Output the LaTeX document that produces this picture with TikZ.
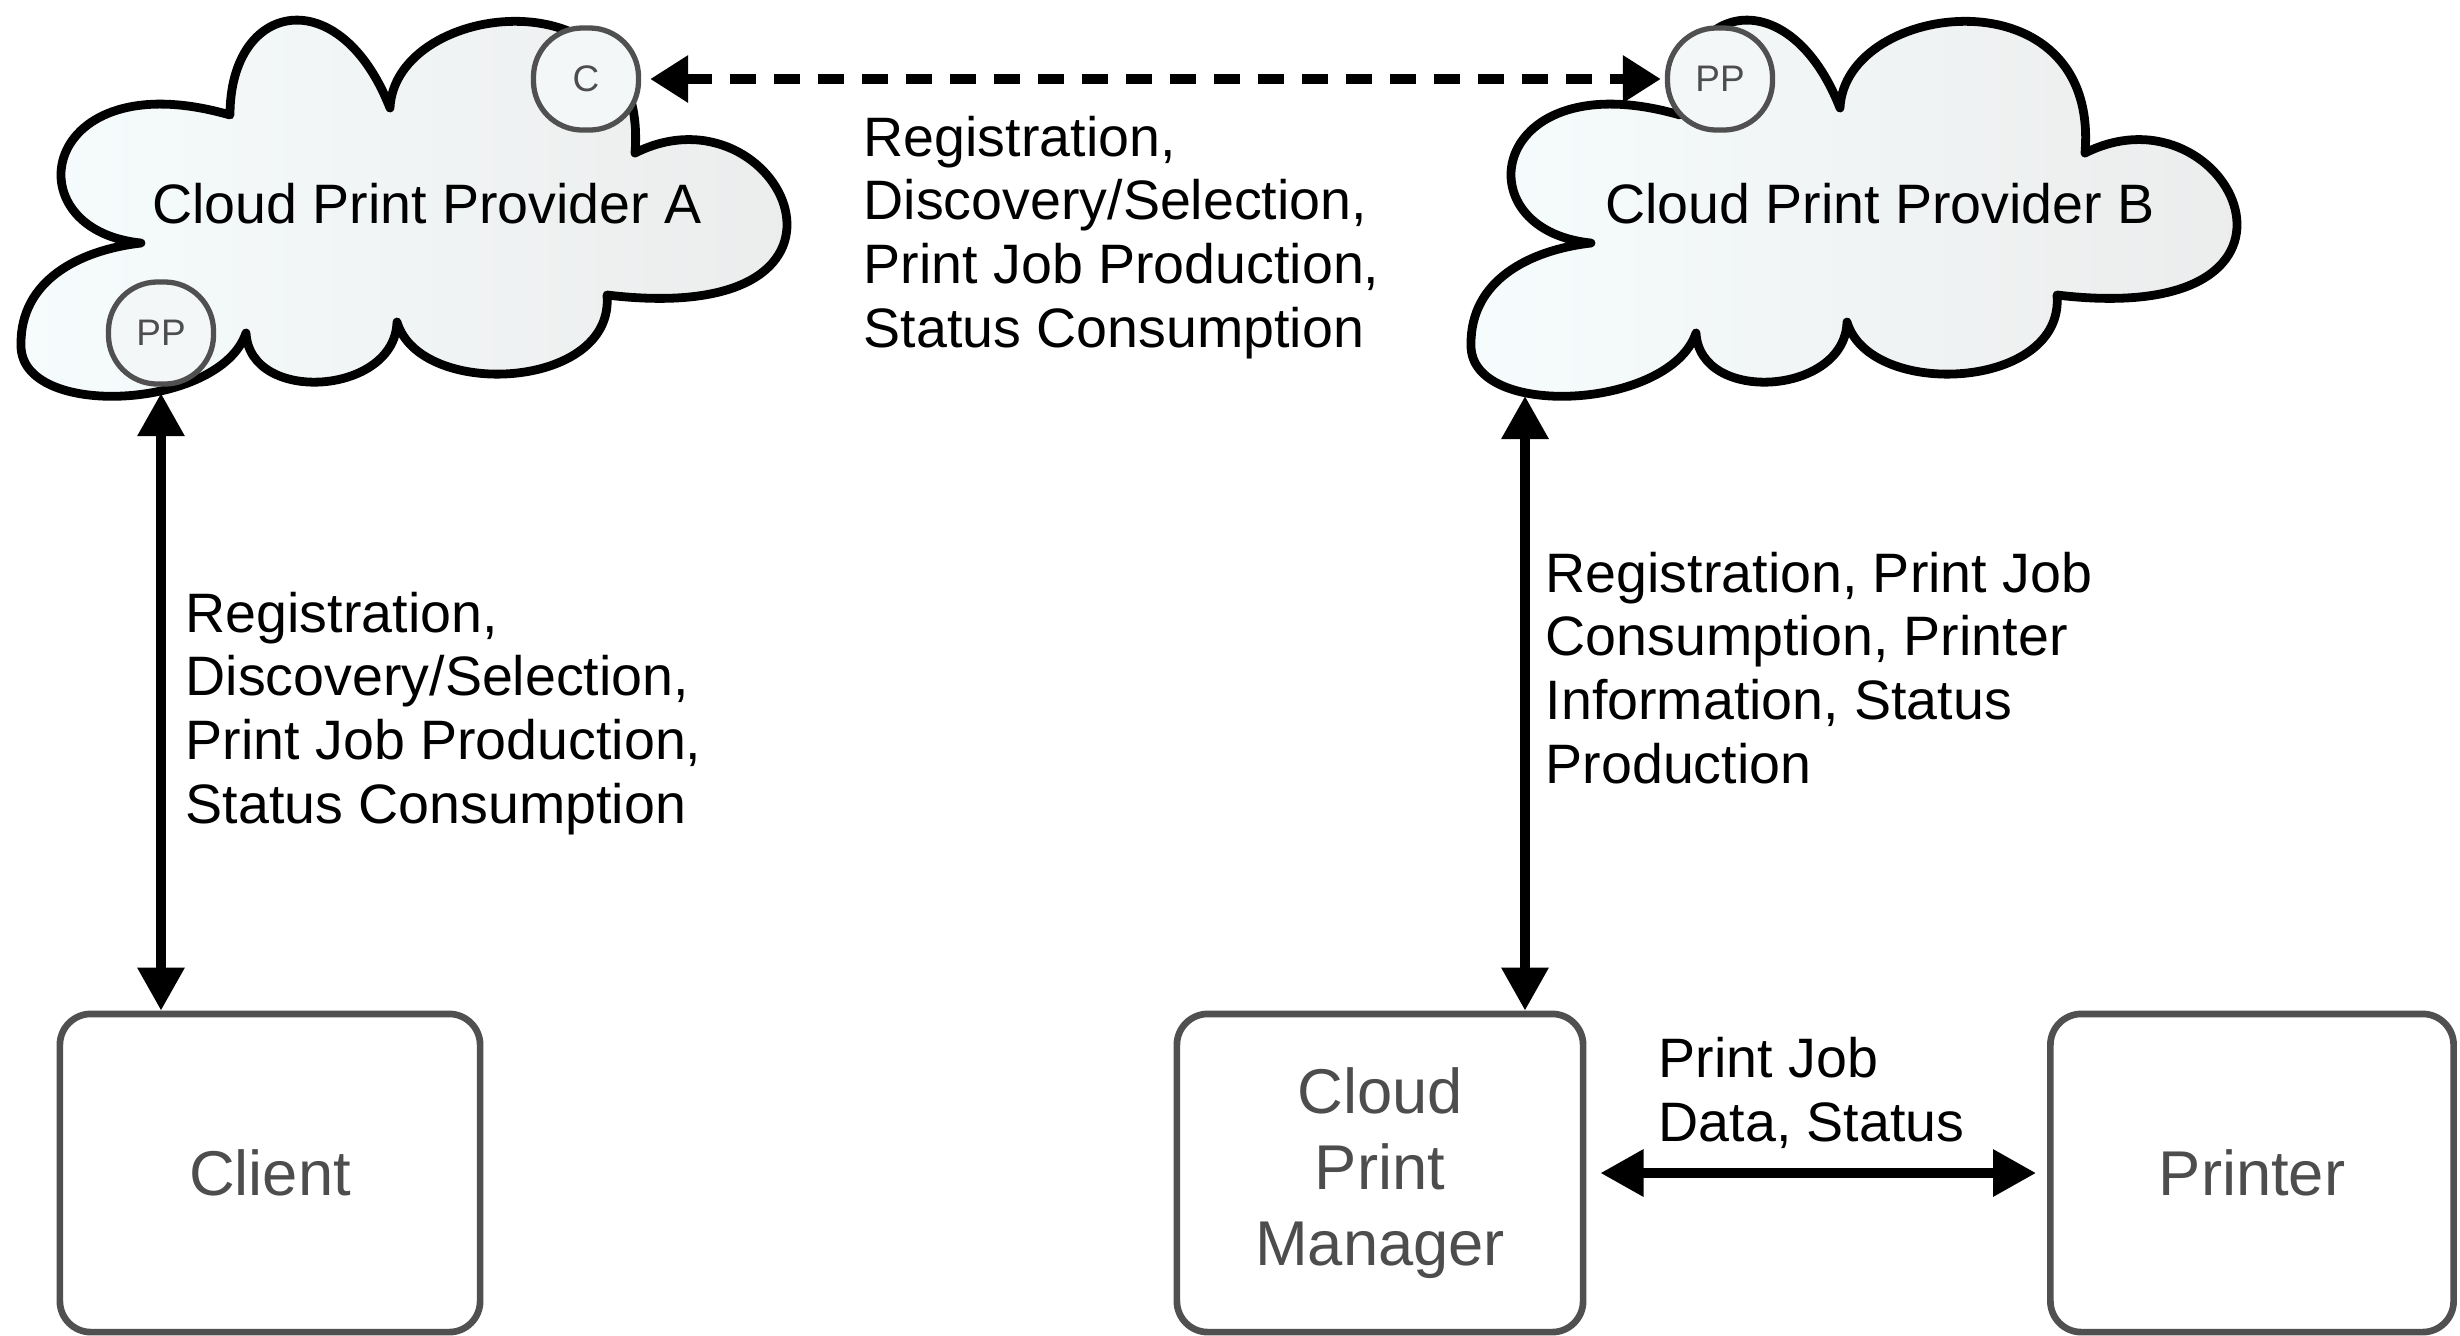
\documentclass[tikz,border=0pt]{standalone}
\usepackage{fontspec}
\setmainfont{Liberation Sans}
\usetikzlibrary{arrows.meta}
\definecolor{cloudL}{RGB}{246,252,253}
\definecolor{cloudR}{RGB}{234,234,234}
\definecolor{boxgray}{RGB}{80,80,80}
\definecolor{txtgray}{RGB}{77,77,77}
\definecolor{pinfill}{RGB}{244,247,248}
\tikzset{
  cloudline/.style={line width=2.5pt, line join=round, draw=black, left color=cloudL, right color=cloudR},
  pin/.style={draw=boxgray, line width=1.5pt, fill=pinfill, rounded corners=0.49cm,
              minimum width=1.05cm, minimum height=1.02cm, inner sep=0pt, text=txtgray,
              font=\fontsize{10.5}{12}\selectfont},
  boxnode/.style={draw=boxgray, line width=1.9pt, rounded corners=0.31cm, inner sep=0pt,
              align=center, text=txtgray, font=\fontsize{18}{21.6}\selectfont},
  lbl/.style={inner sep=0pt, align=left, font=\fontsize{15.8}{18.1}\selectfont},
  cloudtxt/.style={inner sep=0pt, font=\fontsize{15.8}{18.1}\selectfont},
  dbl/.style={line width=2.7pt, {Triangle[length=4.3mm,width=4.5mm]}-{Triangle[length=4.3mm,width=4.5mm]}},
  dasharrow/.style={line width=2.7pt, dash pattern=on 2.6mm off 1.8mm,
              {Triangle[length=3.8mm,width=4.5mm]}-{Triangle[length=3.8mm,width=4.5mm]}}
}
\begin{document}
\begin{tikzpicture}[x=0.01cm, y=-0.01cm]
\useasboundingbox (0,0) rectangle (2460,1335);

% clouds
\foreach \sx in {0,1450} {
  \begin{scope}[shift={(\sx,0)}]
    \draw[cloudline] (141,243) .. controls (10,230) and (40,60) .. (230,115)
      .. controls (230,0) and (340,-20) .. (390,108)
      .. controls (395,0) and (650,-30) .. (635,153)
      .. controls (780,80) and (900,330) .. (607,295)
      .. controls (615,390) and (420,400) .. (397,322)
      .. controls (395,395) and (250,405) .. (246,333)
      .. controls (220,410) and (20,420) .. (21,345)
      .. controls (20,280) and (80,250) .. (141,243) -- cycle;
  \end{scope}
}

\node[cloudtxt] (cloudA) at (427,204) {Cloud Print Provider A};
\node[cloudtxt] (cloudB) at (1880,204) {Cloud Print Provider B};

\node[pin] (cA) at (586,79) {C};
\node[pin] (ppA) at (161,333) {PP};
\node[pin] (ppB) at (1720,79) {PP};

\coordinate (cBbot) at (1525,396);

% boxes
\node[boxnode, minimum width=4.2cm, minimum height=3.18cm] (client) at (270,1173) {Client};
\node[boxnode, minimum width=4.06cm, minimum height=3.18cm] (cpm) at (1380,1173) {Cloud\\Print\\Manager};
\node[boxnode, minimum width=4.03cm, minimum height=3.18cm] (printer) at (2252,1173) {Printer};

% connectors
\draw[dasharrow, shorten <=0.09cm, shorten >=0.04cm] (cA.east) -- (ppB.west);
\draw[dbl, shorten <=0.065cm] (ppA.south) -- (ppA.south |- client.north);
\draw[dbl] (cBbot) -- (cBbot |- cpm.north);
\draw[dbl, shorten <=0.14cm, shorten >=0.11cm] (cpm.east) -- (printer.west);

% labels
\node[lbl, anchor=base west] (lmid) at (863,347) {Registration,\\Discovery/Selection,\\Print Job Production,\\Status Consumption};
\node[lbl, anchor=base west] (lleft) at (185,823) {Registration,\\Discovery/Selection,\\Print Job Production,\\Status Consumption};
\node[lbl, anchor=base west] (lright) at (1545,783) {Registration, Print Job\\Consumption, Printer\\Information, Status\\Production};
\node[lbl, anchor=base west] (lbot) at (1658,1141) {Print Job\\Data, Status};
\end{tikzpicture}
\end{document}
